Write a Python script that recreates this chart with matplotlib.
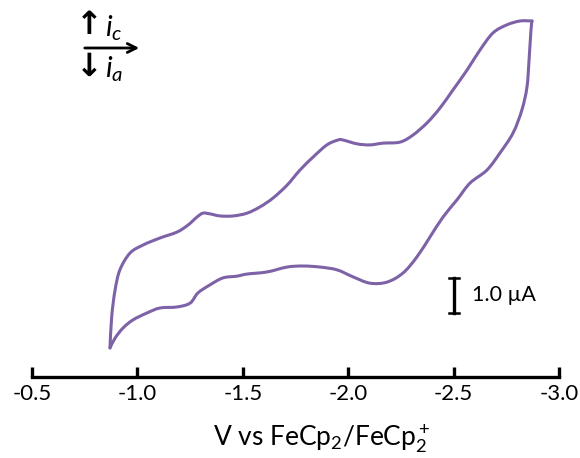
import numpy as np
import matplotlib
matplotlib.use("Agg")
import matplotlib.pyplot as plt
from matplotlib.path import Path
from matplotlib.patches import PathPatch

plt.rcParams['font.family'] = ['Lato', 'DejaVu Sans']
plt.rcParams['mathtext.fontset'] = 'custom'
plt.rcParams['mathtext.rm'] = 'Lato'
plt.rcParams['mathtext.it'] = 'Lato:italic'

# --- CV data (V vs FeCp2/FeCp2+, current in uA, cathodic up) ---
# forward scan (cathodic branch, going negative)
fwd_v = [-0.870, -0.878, -0.894, -0.917, -0.965, -1.027, -1.107, -1.188, -1.240, -1.283,
         -1.311, -1.344, -1.392, -1.454, -1.520, -1.582, -1.643, -1.710, -1.771, -1.833,
         -1.899, -1.952, -1.975, -2.042, -2.103, -2.165, -2.246, -2.307, -2.374, -2.435,
         -2.497, -2.564, -2.625, -2.687, -2.753, -2.815, -2.872]
fwd_i = [0.06, 0.95, 1.71, 2.29, 2.77, 3.00, 3.20, 3.37, 3.57, 3.80,
         3.91, 3.89, 3.83, 3.83, 3.91, 4.09, 4.34, 4.71, 5.14, 5.51,
         5.86, 6.00, 6.00, 5.89, 5.86, 5.91, 5.94, 6.14, 6.49, 6.91,
         7.43, 8.00, 8.57, 9.06, 9.29, 9.40, 9.40]
# reverse scan (anodic branch, back to start)
rev_v = [-2.872, -2.867, -2.858, -2.848, -2.824, -2.782, -2.720, -2.658, -2.578, -2.516,
         -2.450, -2.388, -2.326, -2.260, -2.184, -2.103, -2.023, -1.947, -1.866, -1.786,
         -1.710, -1.615, -1.520, -1.472, -1.406, -1.344, -1.287, -1.250, -1.188, -1.107,
         -1.046, -0.979, -0.932, -0.894, -0.870]
rev_i = [9.40, 9.14, 8.29, 7.51, 6.86, 6.20, 5.63, 5.14, 4.77, 4.29,
         3.80, 3.23, 2.66, 2.20, 1.94, 1.91, 2.09, 2.29, 2.37, 2.40,
         2.37, 2.23, 2.17, 2.11, 2.06, 1.86, 1.63, 1.34, 1.23, 1.20,
         1.06, 0.86, 0.63, 0.34, 0.06]

xticks = [-0.5, -1.0, -1.5, -2.0, -2.5, -3.0]
xtick_labels = ['-0.5', '-1.0', '-1.5', '-2.0', '-2.5', '-3.0']

scale_v = -2.5          # where the scale bar sits
scale_i = [1.06, 2.06]  # 1.0 uA

LINE_COLOR = '#7d62a8'


def smooth_path(xs, ys):
    # Catmull-Rom through the points, drawn as cubic bezier segments
    p = np.column_stack([xs, ys])
    verts = [p[0]]
    codes = [Path.MOVETO]
    n = len(p)
    for k in range(n - 1):
        p0 = p[k - 1] if k > 0 else p[k]
        p1 = p[k]
        p2 = p[k + 1]
        p3 = p[k + 2] if k + 2 < n else p[k + 1]
        c1 = p1 + (p2 - p0) / 6.0
        c2 = p2 - (p3 - p1) / 6.0
        verts += [c1, c2, p2]
        codes += [Path.CURVE4] * 3
    return Path(verts, codes)


fig = plt.figure(figsize=(5.8, 4.58), dpi=100)
ax = fig.add_axes([32 / 580, 81 / 458, (559 - 32) / 580, (448 - 81) / 458])

# forward and reverse drawn separately so the sharp turns stay sharp
for xs, ys in [(fwd_v, fwd_i), (rev_v, rev_i)]:
    ax.add_patch(PathPatch(smooth_path(xs, ys), facecolor='none', edgecolor=LINE_COLOR,
                           lw=2.2, joinstyle='round', capstyle='round'))

ax.set_xlim(-0.5, -3.0)
ax.set_ylim(-0.771, 9.714)

for s in ['top', 'right', 'left']:
    ax.spines[s].set_visible(False)
ax.spines['bottom'].set_linewidth(2.4)
ax.set_yticks([])
ax.set_xticks(xticks)
ax.set_xticklabels(xtick_labels)
ax.tick_params(axis='x', direction='in', length=7.5, width=2.4, labelsize=16, pad=5)

# scale bar
ax.plot([scale_v, scale_v], scale_i, color='black', lw=2.4)
ax.plot([scale_v - 0.024, scale_v + 0.024], [scale_i[0]] * 2, color='black', lw=1.8)
ax.plot([scale_v - 0.024, scale_v + 0.024], [scale_i[1]] * 2, color='black', lw=1.8)
ax.text(scale_v - 0.085, np.mean(scale_i), '1.0 \u00b5A', fontsize=15.5, va='center', ha='left')


# text placed in figure pixels
def fx(px):
    return px / 580


def fy(py):
    return 1 - py / 458


# axis title (sits a bit right of the axis centre in the original)
fig.text(fx(322), fy(446), 'V vs FeCp$_2$/FeCp$_2^+$', fontsize=19, ha='center', va='baseline')

# current direction key (top left)
fig.text(fx(89), fy(26), '\u2191', fontsize=23, fontweight='bold', ha='center', va='center',
         family=['DejaVu Sans'])
fig.text(fx(89), fy(67), '\u2193', fontsize=23, fontweight='bold', ha='center', va='center',
         family=['DejaVu Sans'])
fig.text(fx(105), fy(28), '$i_c$', fontsize=21, ha='left', va='center')
fig.text(fx(105), fy(69), '$i_a$', fontsize=21, ha='left', va='center')
ax.annotate('', xy=(fx(142), fy(48)), xytext=(fx(82), fy(48)), xycoords='figure fraction',
            arrowprops=dict(arrowstyle='->', lw=2.0, color='black', mutation_scale=16))

fig.savefig('out.png', dpi=100)
